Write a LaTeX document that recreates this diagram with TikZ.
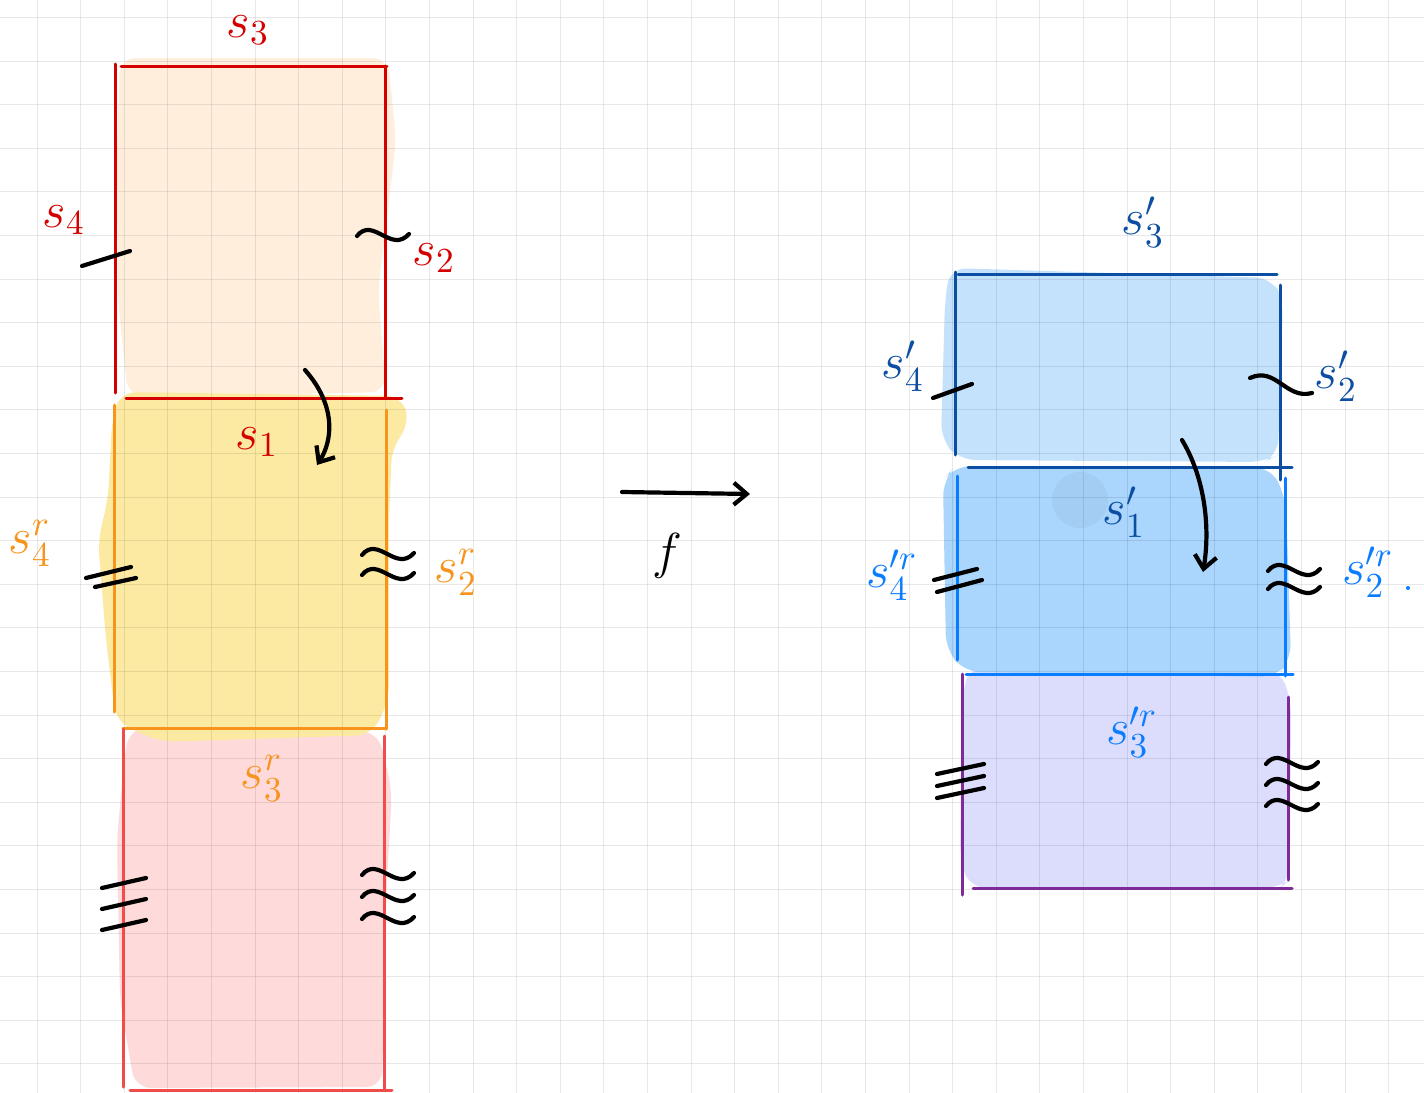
\documentclass[tikz,border=0pt]{standalone}
\usepackage{amsmath, amssymb}
\usetikzlibrary{arrows.meta, positioning, calc}
\definecolor{sRed}{HTML}{D40000}
\definecolor{sOrange}{HTML}{F7941D}
\definecolor{sRose}{HTML}{F24B4B}
\definecolor{fPeach}{HTML}{FEEEDB}
\definecolor{fYellow}{HTML}{FDEAA2}
\definecolor{fPink}{HTML}{FEDADA}
\definecolor{dBlue}{HTML}{0B4EA2}
\definecolor{bBlue}{HTML}{0A7CFF}
\definecolor{sPurple}{HTML}{7E2A98}
\definecolor{fSky}{HTML}{C4E2FC}
\definecolor{fBlue}{HTML}{AAD5FC}
\definecolor{fLilac}{HTML}{DCDDFD}

\begin{document}
\begin{tikzpicture}[x=0.1mm, y=-0.1mm,
    ink/.style={line width=0.42mm, line cap=round, black},
    edge/.style={line width=0.3mm, line cap=round},
    gridline/.style={line width=0.1mm, black, opacity=0.09},
    lbl/.style={font=\Large, inner sep=0pt},
    blob/.style={rounded corners=1.6mm},
    wavemark/.pic={\draw[ink] (0,6) .. controls (16,-14) and (34,24) .. (52,4);},
    tip/.style={-{Straight Barb[length=1.3mm, width=2.2mm]}}]
  \fill[white] (0,0) rectangle (1424,1093);
  \useasboundingbox (0,0) rectangle (1424,1093);

  % coloured patches
  \fill[fPeach, blob] (120,58) -- (388,58) -- (396,140) -- (388,210) -- (378,290) -- (386,392)
    -- (300,394) -- (128,396) -- (118,300) -- (117,150) -- cycle;
  \fill[fPink, blob] (130,728) -- (378,732) -- (392,790) -- (386,900) -- (382,1087)
    -- (135,1088) -- (120,1000) -- (117,840) -- (124,760) -- cycle;
  \fill[fYellow, blob] (120,392) -- (402,396) -- (410,425) -- (392,446) -- (389,520)
    -- (389,700) -- (372,735) -- (160,742) -- (116,722) -- (106,640) -- (98,540)
    -- (108,500) -- (112,420) -- cycle;
  \fill[fSky, blob] (950,268) -- (1272,278) -- (1283,300) -- (1278,455) -- (1265,462)
    -- (960,460) -- (941,440) -- (945,300) -- cycle;
  \fill[fLilac, blob] (972,666) -- (1280,670) -- (1291,700) -- (1290,880) -- (1280,888)
    -- (970,888) -- (960,860) -- (962,690) -- cycle;
  \fill[fBlue, blob] (955,466) -- (1272,468) -- (1286,500) -- (1291,660) -- (1276,677)
    -- (965,672) -- (946,650) -- (943,480) -- cycle;
  \fill[black, opacity=0.035] (1080,500) circle (28);

  % squared paper
  \foreach \i in {0,...,31}
    \draw[gridline] ({37+43.6*\i},0) -- ({37+43.6*\i},1093);
  \foreach \j in {0,...,24}
    \draw[gridline] (0,{17.5+43.6*\j}) -- (1424,{17.5+43.6*\j});

  % left strip
  \draw[edge, sRed] (115,64) -- (115,393) (121,66) -- (387,66) (385,66) -- (385,398)
    (126,398) -- (402,398);
  \draw[edge, sOrange] (114,405) -- (114,712) (386,410) -- (386,729) (123,728) -- (386,728);
  \draw[edge, sRose] (123,729) -- (123,1087) (384,736) -- (384,1090) (130,1090) -- (392,1090);

  \node[lbl, text=sRed] (s3) at (248,30) {$s_3$};
  \node[lbl, text=sRed] (s4) at (64,220) {$s_4$};
  \node[lbl, text=sRed] (s2) at (434,258) {$s_2$};
  \node[lbl, text=sRed] (s1) at (257,442) {$s_1$};
  \node[lbl, text=sOrange] (s4r) at (30,543) {$s_4^r$};
  \node[lbl, text=sOrange] (s2r) at (456,572) {$s_2^r$};
  \node[lbl, text=sOrange] (s3r) at (262,778) {$s_3^r$};

  \draw[ink] (82,266) -- (130,251);
  \pic at (357,230) {wavemark};
  \draw[ink] (86,578) -- (131,567) (95,587) -- (136,578);
  \foreach \k in {0,1} \pic at (362,{549+20*\k}) {wavemark};
  \foreach \k in {0,1,2} \draw[ink] (102,{888+21*\k}) -- (146,{878+21*\k});
  \foreach \k in {0,1,2} \pic at (362,{869+22*\k}) {wavemark};

  \coordinate (c1) at (305,370);
  \coordinate (c2) at (317,465);
  \draw[ink, tip] (c1) .. controls (336,405) and (333,440) .. (c2);

  % the map
  \coordinate (fa) at (622,492);
  \coordinate (fb) at (750,494);
  \draw[ink, tip] (fa) -- (fb);
  \node[lbl] (f) at (667,556) {$f$};

  % right strip
  \draw[edge, dBlue] (955,272) -- (955,455) (958,274) -- (1277,274) (1280,285) -- (1280,480)
    (968,467) -- (1292,467);
  \draw[edge, bBlue] (957,476) -- (957,660) (1285,478) -- (1285,676) (966,674) -- (1293,674);
  \draw[edge, sPurple] (962,674) -- (962,895) (1288,697) -- (1288,880) (973,888) -- (1292,888);

  \node[lbl, text=dBlue] (s3p) at (1143,222) {$s_3'$};
  \node[lbl, text=dBlue] (s4p) at (903,366) {$s_4'$};
  \node[lbl, text=dBlue] (s2p) at (1336,376) {$s_2'$};
  \node[lbl, text=dBlue] (s1p) at (1124,512) {$s_1'$};
  \node[lbl, text=bBlue] (s4pr) at (892,575) {$s_4^{\prime r}$};
  \node[lbl, text=bBlue] (s2pr) at (1368,572) {$s_2^{\prime r}$};
  \node[lbl, text=bBlue] (s3pr) at (1132,732) {$s_3^{\prime r}$};
  \fill[bBlue] (1408,588) circle (2);

  \draw[ink] (933,398) -- (972,384);
  \draw[ink] (1250,378) .. controls (1276,366) and (1286,400) .. (1312,393);
  \draw[ink] (934,580) -- (977,569) (937,592) -- (982,580);
  \foreach \k in {0,1} \pic at (1268,{565+18*\k}) {wavemark};
  \foreach \k in {0,1,2} \draw[ink] (937,{774+12*\k}) -- (984,{764+12*\k});
  \foreach \k in {0,1,2} \pic at (1266,{758+21*\k}) {wavemark};

  \coordinate (c3) at (1182,440);
  \coordinate (c4) at (1203,572);
  \draw[ink, tip] (c3) .. controls (1206,480) and (1210,530) .. (c4);
\end{tikzpicture}
\end{document}
